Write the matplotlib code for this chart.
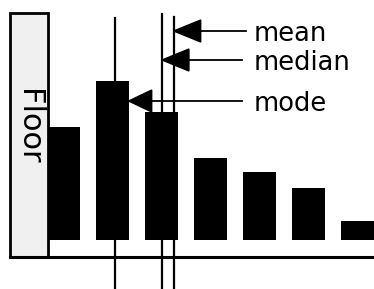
import numpy as np
import matplotlib.pyplot as plt
from matplotlib.patches import Rectangle, Polygon

# data (bar heights, relative units)
categorias = [0, 1, 2, 3, 4, 5, 6]
alturas = [113, 159, 128, 82, 68, 52, 19]

# estatisticas (posicao no eixo das categorias)
estatisticas = ['mean', 'median', 'mode']
posicoes = [2.25, 2.01, 1.06]
alturas_seta = [209, 180, 139]
inicio_linha = [223, 226, 222]

fig = plt.figure(figsize=(3.74, 2.89), dpi=100)
ax = fig.add_axes([0, 0, 1, 1])
ax.set_xlim(-1.296, 6.337)
ax.set_ylim(-49, 240)
ax.axis('off')

# barras
ax.bar(categorias, alturas, width=0.66, color='black', zorder=2)

# caixa "Floor"
ax.add_patch(Rectangle((-1.092, -17), 0.776, 244, facecolor='#f0f0f0',
                       edgecolor='black', linewidth=2, zorder=3))
ax.text(-0.72, 113, 'Floor', rotation=270, ha='center', va='center',
        fontsize=22, zorder=4)

# linha de base
ax.plot([-1.1, 6.4], [-17, -17], color='black', linewidth=2.2, zorder=3)

# linhas verticais + setas
dx = 0.55
for nome, x, y, top in zip(estatisticas, posicoes, alturas_seta, inicio_linha):
    ax.plot([x, x], [-60, top], color='black', linewidth=1.6, zorder=3)
    tip = x
    if nome == 'mode':
        tip = 1.0 + 0.33  # aponta para a borda da barra
        comp = 0.47
    else:
        comp = dx
    ax.add_patch(Polygon([[tip, y], [tip + comp, y + 11], [tip + comp, y - 11]],
                         closed=True, color='black', zorder=4))
    fim = 3.72 if nome == 'mean' else 3.64
    ax.plot([tip + comp, fim], [y, y], color='black', linewidth=1.3, zorder=4)
    ax.text(3.89, y - 10, nome, ha='left', va='baseline', fontsize=18.5, zorder=4)

plt.savefig('out.png', dpi=100)
